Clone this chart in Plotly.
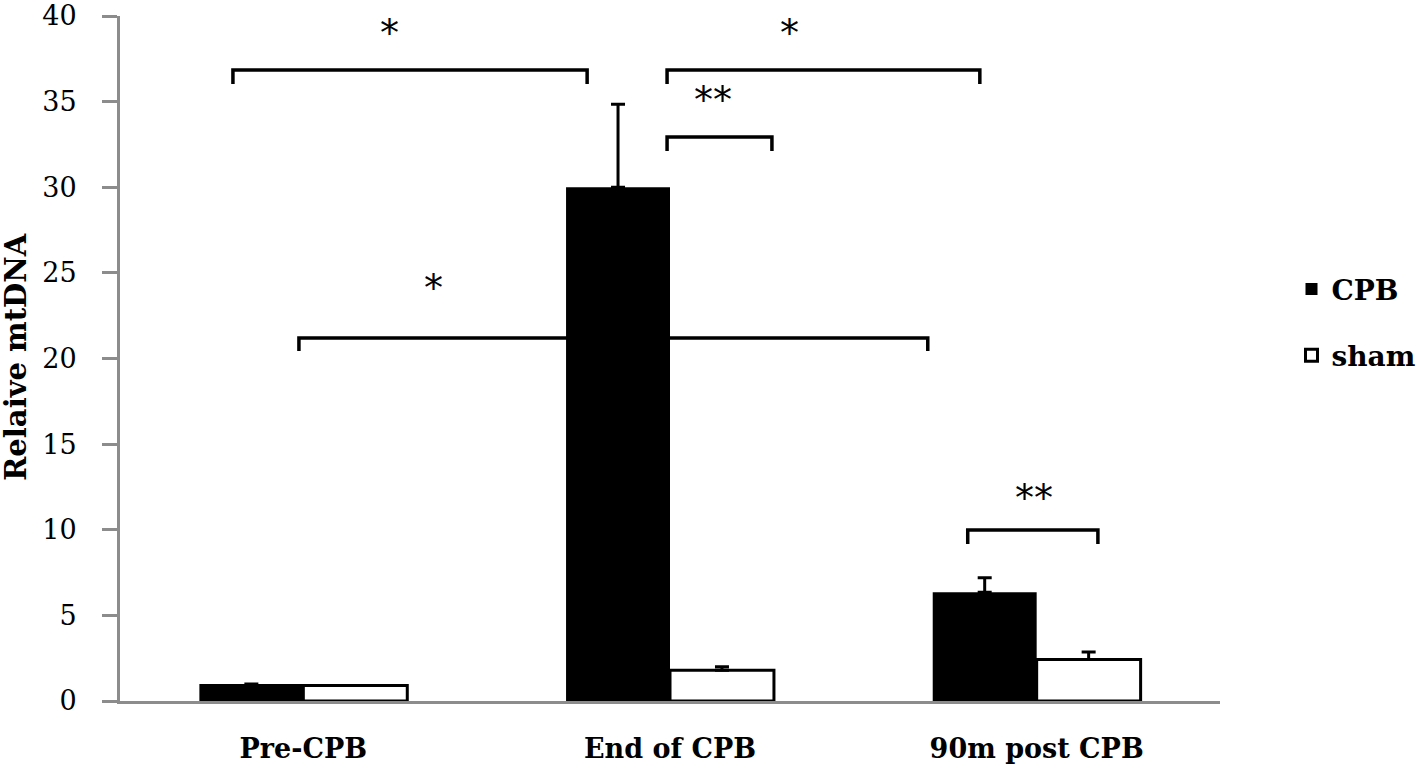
import plotly.graph_objects as go

categories = ["Pre-CPB", "End of CPB", "90m post CPB"]
cpb_values = [1.0, 30.0, 6.35]
cpb_errors = [0.0, 4.85, 0.84]
sham_values = [0.9, 1.8, 2.42]
sham_errors = [0.0, 0.2, 0.44]
y_ticks = [0, 5, 10, 15, 20, 25, 30, 35, 40]

# significance brackets: (x0, x1, y_line, y_drop, label, label_x, label_y)
brackets = [
    (-0.192, 0.774, 36.85, 36.03, "*", 0.236, 39.02),
    (0.992, 1.845, 36.85, 36.03, "*", 1.325, 39.02),
    (0.992, 1.278, 32.93, 32.12, "**", 1.117, 35.11),
    (-0.012, 1.703, 21.2, 20.44, "*", 0.356, 24.13),
    (1.812, 2.167, 9.99, 9.17, "**", 1.992, 11.87),
]

AXIS_GREY = "#8c8c8c"
SERIF = "DejaVu Serif"

fig = go.Figure()
fig.add_trace(go.Bar(
    x=categories, y=cpb_values, name="<b>CPB</b>",
    marker=dict(color="black", line=dict(color="black", width=0)),
    error_y=dict(type="data", array=cpb_errors, arrayminus=[0] * 3,
                 symmetric=False, color="black", thickness=3, width=7),
    legendgroup="a",
))
fig.add_trace(go.Bar(
    x=categories, y=sham_values, name="<b>sham</b>",
    marker=dict(color="white", line=dict(color="black", width=3)),
    error_y=dict(type="data", array=sham_errors, arrayminus=[0] * 3,
                 symmetric=False, color="black", thickness=3, width=7),
    legendgroup="b",
))

shapes = []
annotations = []
for x0, x1, yl, yd, lab, lx, ly in brackets:
    shapes.append(dict(type="path", xref="x", yref="y",
                       path=f"M {x0} {yd} L {x0} {yl} L {x1} {yl} L {x1} {yd}",
                       line=dict(color="black", width=3.5), layer="below"))
    annotations.append(dict(x=lx, y=ly, xref="x", yref="y", text=lab,
                            showarrow=False,
                            font=dict(family="DejaVu Sans", size=38, color="black")))

annotations.append(dict(x=-0.094, y=0.502, xref="paper", yref="paper",
                        xanchor="center", yanchor="middle",
                        text="<b>Relaive mtDNA</b>", textangle=-90, showarrow=False,
                        font=dict(family=SERIF, size=29, color="black")))

fig.update_layout(
    width=1418, height=770,
    margin=dict(l=120, r=198, t=16, b=69, autoexpand=False),
    plot_bgcolor="white", paper_bgcolor="white",
    barmode="group", bargap=0.433, bargroupgap=0,
    shapes=shapes, annotations=annotations,
    legend=dict(x=1.065, y=0.553, xanchor="left", yanchor="middle",
                font=dict(family=SERIF, size=28, color="black"),
                tracegroupgap=27, traceorder="grouped", itemwidth=30),
    showlegend=True,
)
fig.update_xaxes(
    showline=True, linecolor=AXIS_GREY, linewidth=3, ticks="",
    tickvals=categories, ticktext=[f"<b>{c}</b>" for c in categories],
    tickfont=dict(family=SERIF, size=27, color="black"),
    showgrid=False, ticklabelstandoff=22, automargin=False,
)
fig.update_yaxes(
    range=[0, 40], tickvals=y_ticks, showgrid=False, zeroline=False,
    showline=True, linecolor=AXIS_GREY, linewidth=3,
    ticks="outside", ticklen=15, tickwidth=3, tickcolor=AXIS_GREY,
    tickfont=dict(family=SERIF, size=27, color="black"),
    ticklabelstandoff=20, automargin=False, ticklabeloverflow="allow",
)

fig.write_html(
    "out.html",
    config={"displayModeBar": False},
    post_script="document.body.style.margin='0';document.body.style.overflow='hidden';",
)
